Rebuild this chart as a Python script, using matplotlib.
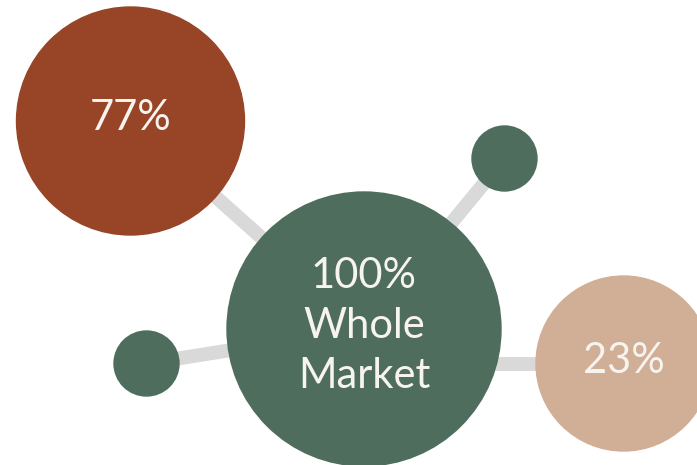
import matplotlib
matplotlib.use("Agg")
import matplotlib.pyplot as plt
from matplotlib.patches import Circle

# nodos del grafico (pixeles, y hacia abajo)
labels = ["100%\nWhole\nMarket", "77%", "", "", "23%"]
node_x = [364, 130.5, 504.5, 146.5, 623.5]
node_y = [329, 121, 158.5, 363.5, 363.5]
node_r = [137, 114, 32.5, 32.5, 87.5]
colors = ["#4e6d5c", "#984426", "#4e6d5c", "#4e6d5c", "#d1ae96"]

# conexiones desde el nodo central
links = [1, 2, 3, 4]

fig = plt.figure(figsize=(6.97, 4.65), dpi=100)
ax = fig.add_axes([0, 0, 1, 1])
ax.set_xlim(0, 697)
ax.set_ylim(465, 0)
ax.set_aspect("equal")
ax.axis("off")

for i in links:
    y0 = node_y[0]
    if i == 4:
        y0 = node_y[i]  # la linea derecha es horizontal
    ax.plot([node_x[0], node_x[i]], [y0, node_y[i]], color="#d9d9d9",
            lw=10, solid_capstyle="butt", zorder=1)

for x, y, r, c, t in zip(node_x, node_y, node_r, colors, labels):
    ax.add_patch(Circle((x, y), r, color=c, zorder=2))
    if t:
        ax.text(x, y - 3, t, color="#f7f3ef", fontsize=30, fontfamily="Lato",
                ha="center", va="center", linespacing=1.38, zorder=3)

fig.savefig("out.png", dpi=100)
